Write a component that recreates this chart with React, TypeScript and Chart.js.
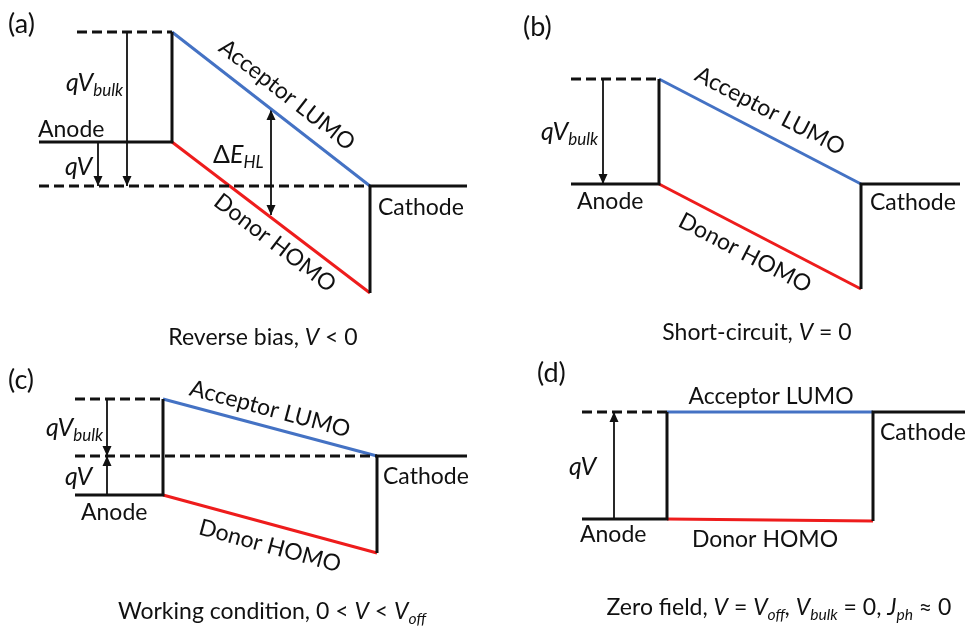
import React, { useEffect, useRef } from 'react';
import { Chart, registerables } from 'chart.js';

Chart.register(...registerables);

const W = 965;
const H = 628;
const FONT = 'Lato, "Open Sans", sans-serif';
const BLUE = '#4472c4';
const RED = '#ee1c1c';
const INK = '#111111';

// Band diagram geometry for the four bias conditions (a)-(d).
// x: position across the device, y: energy (drawn downward).
const panelTags = ['(a)', '(b)', '(c)', '(d)'];
const anodeStart = [39, 571, 75, 582];
const vacuumDashStart = [77, 571, 75, 582];
const interfaceX = [172, 659, 163, 667];
const cathodeX = [370, 861, 377, 873];
const cathodeEnd = [467, 960, 467, 965];
const lumoAnode = [32, 79, 399, 412];
const lumoCathode = [186, 184, 456, 412];
const anodeLevel = [142, 184, 495, 519];
const homoCathode = [293, 289, 553, 521];
// Cathode Fermi level carried back to the anode side (only where it differs from the anode)
const fermiDashStart: (number | null)[] = [39, null, 75, null];

// Potential-step arrows: x position, start level, end level, heads
const arrowX = [127, 98, 271, 603, 107, 107, 614];
const arrowFrom = [32, 142, 110, 79, 399, 495, 519];
const arrowTo = [186, 186, 215, 184, 456, 456, 412];
const arrowBoth = [false, false, true, false, false, false, false];

type Run = { t: string; i?: boolean; s?: boolean };

const qVbulk: Run[] = [{ t: 'qV', i: true }, { t: 'bulk', i: true, s: true }];
const qV: Run[] = [{ t: 'qV', i: true }];
const dEHL: Run[] = [{ t: 'Δ' }, { t: 'E', i: true }, { t: 'HL', i: true, s: true }];
const anodeTxt: Run[] = [{ t: 'Anode' }];
const cathodeTxt: Run[] = [{ t: 'Cathode' }];
const lumoTxt: Run[] = [{ t: 'Acceptor LUMO' }];
const homoTxt: Run[] = [{ t: 'Donor HOMO' }];

const captions: Run[][] = [
  [{ t: 'Reverse bias, ' }, { t: 'V', i: true }, { t: ' < 0' }],
  [{ t: 'Short-circuit, ' }, { t: 'V', i: true }, { t: ' = 0' }],
  [
    { t: 'Working condition, 0 < ' },
    { t: 'V', i: true },
    { t: ' < ' },
    { t: 'V', i: true },
    { t: 'off', i: true, s: true },
  ],
  [
    { t: 'Zero field, ' },
    { t: 'V', i: true },
    { t: ' = ' },
    { t: 'V', i: true },
    { t: 'off', i: true, s: true },
    { t: ', ', i: true },
    { t: 'V', i: true },
    { t: 'bulk', i: true, s: true },
    { t: ' = 0, ' },
    { t: 'J', i: true },
    { t: 'ph', i: true, s: true },
    { t: ' ≈ 0' },
  ],
];

const SIZE = 23;
const SYM = 25;

// Text placement (x, y centre)
const tagPos = [[8, 24], [523, 27], [8, 380], [537, 373]];
const captionPos = [[263, 338], [757, 333], [272, 612], [779, 608]];
const sideLabels: { runs: Run[]; x: number; y: number; size: number }[] = [
  { runs: qVbulk, x: 66, y: 83, size: SYM },
  { runs: anodeTxt, x: 38, y: 130, size: SIZE },
  { runs: qV, x: 65, y: 167, size: SYM },
  { runs: dEHL, x: 213, y: 155, size: SYM },
  { runs: cathodeTxt, x: 378, y: 208, size: SIZE },
  { runs: qVbulk, x: 541, y: 132, size: SYM },
  { runs: anodeTxt, x: 577, y: 202, size: SIZE },
  { runs: cathodeTxt, x: 870, y: 203, size: SIZE },
  { runs: qVbulk, x: 46, y: 428, size: SYM },
  { runs: qV, x: 65, y: 477, size: SYM },
  { runs: anodeTxt, x: 81, y: 513, size: SIZE },
  { runs: cathodeTxt, x: 383, y: 477, size: SIZE },
  { runs: qV, x: 569, y: 467, size: SYM },
  { runs: anodeTxt, x: 580, y: 535, size: SIZE },
  { runs: cathodeTxt, x: 880, y: 433, size: SIZE },
];
const lumoLabelPos = [[287, 95], [770, 111], [270, 409], [771, 397]];
const homoLabelPos = [[275, 243], [745, 253], [270, 546], [765, 540]];

function runFont(r: Run, size: number) {
  const sz = r.s ? size * 0.68 : size;
  return `${r.i ? 'italic ' : ''}${sz}px ${FONT}`;
}

function drawRuns(
  ctx: CanvasRenderingContext2D,
  runs: Run[],
  x: number,
  y: number,
  align: 'left' | 'center',
  size: number
) {
  let total = 0;
  for (const r of runs) {
    ctx.font = runFont(r, size);
    total += ctx.measureText(r.t).width;
  }
  let cx = align === 'center' ? x - total / 2 : x;
  ctx.textAlign = 'left';
  ctx.textBaseline = 'middle';
  for (const r of runs) {
    ctx.font = runFont(r, size);
    ctx.fillText(r.t, cx, r.s ? y + size * 0.3 : y);
    cx += ctx.measureText(r.t).width;
  }
}

const seg = (pts: number[][]) => pts.map(([x, y]) => ({ x, y }));

function buildDatasets() {
  const ds: any[] = [];
  const line = (data: any, color: string, width: number, dash: number[] = []) =>
    ds.push({
      data,
      showLine: true,
      borderColor: color,
      borderWidth: width,
      borderDash: dash,
      borderCapStyle: 'butt',
      borderJoinStyle: 'miter',
      pointRadius: 0,
      pointHoverRadius: 0,
      tension: 0,
    });

  for (let p = 0; p < panelTags.length; p++) {
    // dashed LUMO level continued over the anode
    line(seg([[vacuumDashStart[p], lumoAnode[p]], [interfaceX[p], lumoAnode[p]]]), INK, 3, [10, 5]);
    const fs = fermiDashStart[p];
    if (fs !== null) {
      line(seg([[fs, lumoCathode[p]], [cathodeX[p], lumoCathode[p]]]), INK, 3, [10, 5]);
    }
    // anode contact
    line(
      seg([
        [anodeStart[p], anodeLevel[p]],
        [interfaceX[p], anodeLevel[p]],
        [interfaceX[p], lumoAnode[p]],
      ]),
      INK,
      3
    );
    // cathode contact
    line(
      seg([
        [cathodeX[p], homoCathode[p]],
        [cathodeX[p], lumoCathode[p]],
        [cathodeEnd[p], lumoCathode[p]],
      ]),
      INK,
      3
    );
    // acceptor LUMO and donor HOMO
    line(seg([[interfaceX[p], lumoAnode[p]], [cathodeX[p], lumoCathode[p]]]), BLUE, 3);
    line(seg([[interfaceX[p], anodeLevel[p]], [cathodeX[p], homoCathode[p]]]), RED, 3);
  }
  for (let k = 0; k < arrowX.length; k++) {
    line(seg([[arrowX[k], arrowFrom[k]], [arrowX[k], arrowTo[k]]]), INK, 1.8);
  }
  return ds;
}

const annotations = {
  id: 'bandAnnotations',
  afterDatasetsDraw(chart: any) {
    const { ctx } = chart;
    const xs = chart.scales.x;
    const ys = chart.scales.y;
    const px = (v: number) => xs.getPixelForValue(v);
    const py = (v: number) => ys.getPixelForValue(v);
    ctx.save();
    ctx.fillStyle = INK;

    // arrowheads
    const head = (x: number, tipY: number, dir: number) => {
      ctx.beginPath();
      ctx.moveTo(x, tipY);
      ctx.lineTo(x - 4.5, tipY - dir * 10);
      ctx.lineTo(x + 4.5, tipY - dir * 10);
      ctx.closePath();
      ctx.fill();
    };
    for (let k = 0; k < arrowX.length; k++) {
      const x = px(arrowX[k]);
      const a = py(arrowFrom[k]);
      const b = py(arrowTo[k]);
      const dir = Math.sign(b - a);
      head(x, b, dir);
      if (arrowBoth[k]) head(x, a, -dir);
    }

    // panel tags and captions
    for (let p = 0; p < panelTags.length; p++) {
      drawRuns(ctx, [{ t: panelTags[p] }], px(tagPos[p][0]), py(tagPos[p][1]), 'left', 27);
      drawRuns(ctx, captions[p], px(captionPos[p][0]), py(captionPos[p][1]), 'center', SIZE);
    }
    for (const l of sideLabels) {
      drawRuns(ctx, l.runs, px(l.x), py(l.y), 'left', l.size);
    }

    // band labels follow the slope of their band
    for (let p = 0; p < panelTags.length; p++) {
      const x0 = px(interfaceX[p]);
      const x1 = px(cathodeX[p]);
      const lumoAng = Math.atan2(py(lumoCathode[p]) - py(lumoAnode[p]), x1 - x0);
      const homoAng = Math.atan2(py(homoCathode[p]) - py(anodeLevel[p]), x1 - x0);
      const items: [Run[], number[], number][] = [
        [lumoTxt, lumoLabelPos[p], lumoAng],
        [homoTxt, homoLabelPos[p], p === 3 ? 0 : homoAng],
      ];
      for (const [runs, pos, ang] of items) {
        ctx.save();
        ctx.translate(px(pos[0]), py(pos[1]));
        ctx.rotate(ang);
        drawRuns(ctx, runs, 0, 0, 'center', SIZE);
        ctx.restore();
      }
    }
    ctx.restore();
  },
};

export default function App() {
  const ref = useRef<HTMLCanvasElement>(null);

  useEffect(() => {
    if (!ref.current) return;
    const chart = new Chart(ref.current, {
      type: 'scatter',
      data: { datasets: buildDatasets() },
      options: {
        responsive: false,
        animation: false,
        devicePixelRatio: 1,
        layout: { padding: 0 },
        events: [],
        plugins: { legend: { display: false }, tooltip: { enabled: false } },
        scales: {
          x: { type: 'linear', min: 0, max: W, display: false },
          y: { type: 'linear', min: 0, max: H, reverse: true, display: false },
        },
      },
      plugins: [annotations],
    });
    return () => chart.destroy();
  }, []);

  return (
    <div style={{ position: 'fixed', left: 0, top: 0, width: W, height: H, background: '#fff' }}>
      <canvas ref={ref} width={W} height={H} style={{ display: 'block' }} />
    </div>
  );
}
